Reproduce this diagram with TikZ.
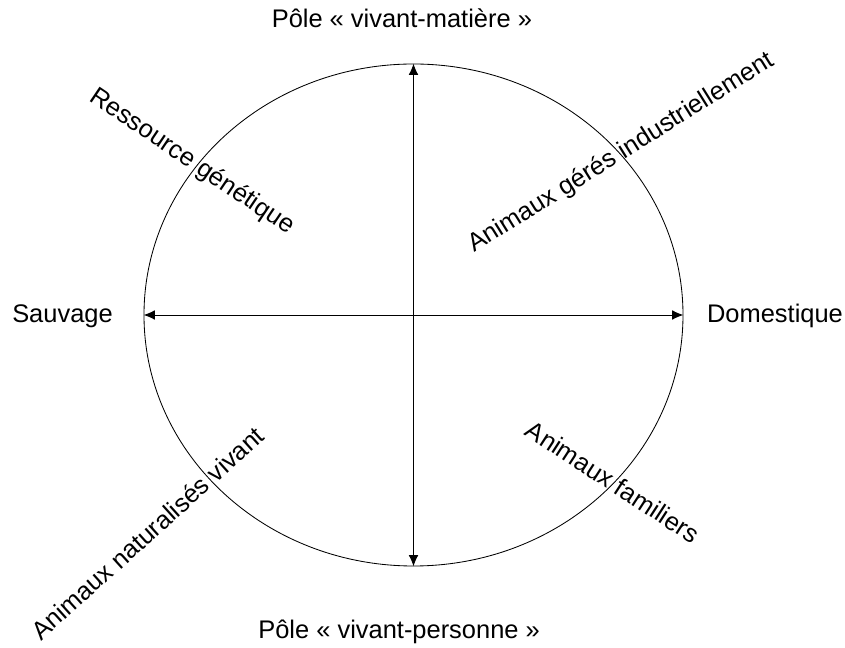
\documentclass[tikz,border=0pt]{standalone}
\usepackage{fontspec}
\setmainfont{Liberation Sans}
\usetikzlibrary{arrows.meta,shapes.geometric}
\begin{document}
\begin{tikzpicture}[
    axis/.style={line width=0.7pt, {Latex[length=2.8mm,width=2.4mm]}-{Latex[length=2.8mm,width=2.4mm]}},
    ring/.style={ellipse, draw, line width=0.6pt, inner sep=0pt, minimum width=13.475cm, minimum height=12.55cm},
    label/.style={inner sep=0pt, font=\fontsize{18.1}{21}\selectfont},
    pole/.style={label, anchor=base}
  ]
    \useasboundingbox (-10.3375,-8.325) rectangle (10.7875,7.875);

    % Ellipse
    \node[ring] (circ) at (0,0) {};

    % Axes
    \draw[axis] (circ.south) -- (circ.north);
    \draw[axis] (circ.west) -- (circ.east);

    % Poles
    \node[pole] (top) at (-0.29, 7.175) {Pôle « vivant-matière »};
    \node[pole] (bottom) at (-0.36, -8.09) {Pôle « vivant-personne »};
    \node[pole] (wild) at (-8.775, -0.2) {Sauvage};
    \node[pole] (home) at (9.0375, -0.2) {Domestique};

    % Quadrants
    \node[label, rotate=-34] (gene) at (-5.54, 3.825) {Ressource génétique};
    \node[label, rotate=32] (indus) at (5.2, 4.05) {Animaux gérés industriellement};
    \node[label, rotate=42] (natur) at (-6.65, -5.45) {Animaux naturalisés vivant};
    \node[label, rotate=-33] (pets) at (4.99, -4.175) {Animaux familiers};
  \end{tikzpicture}
\end{document}
